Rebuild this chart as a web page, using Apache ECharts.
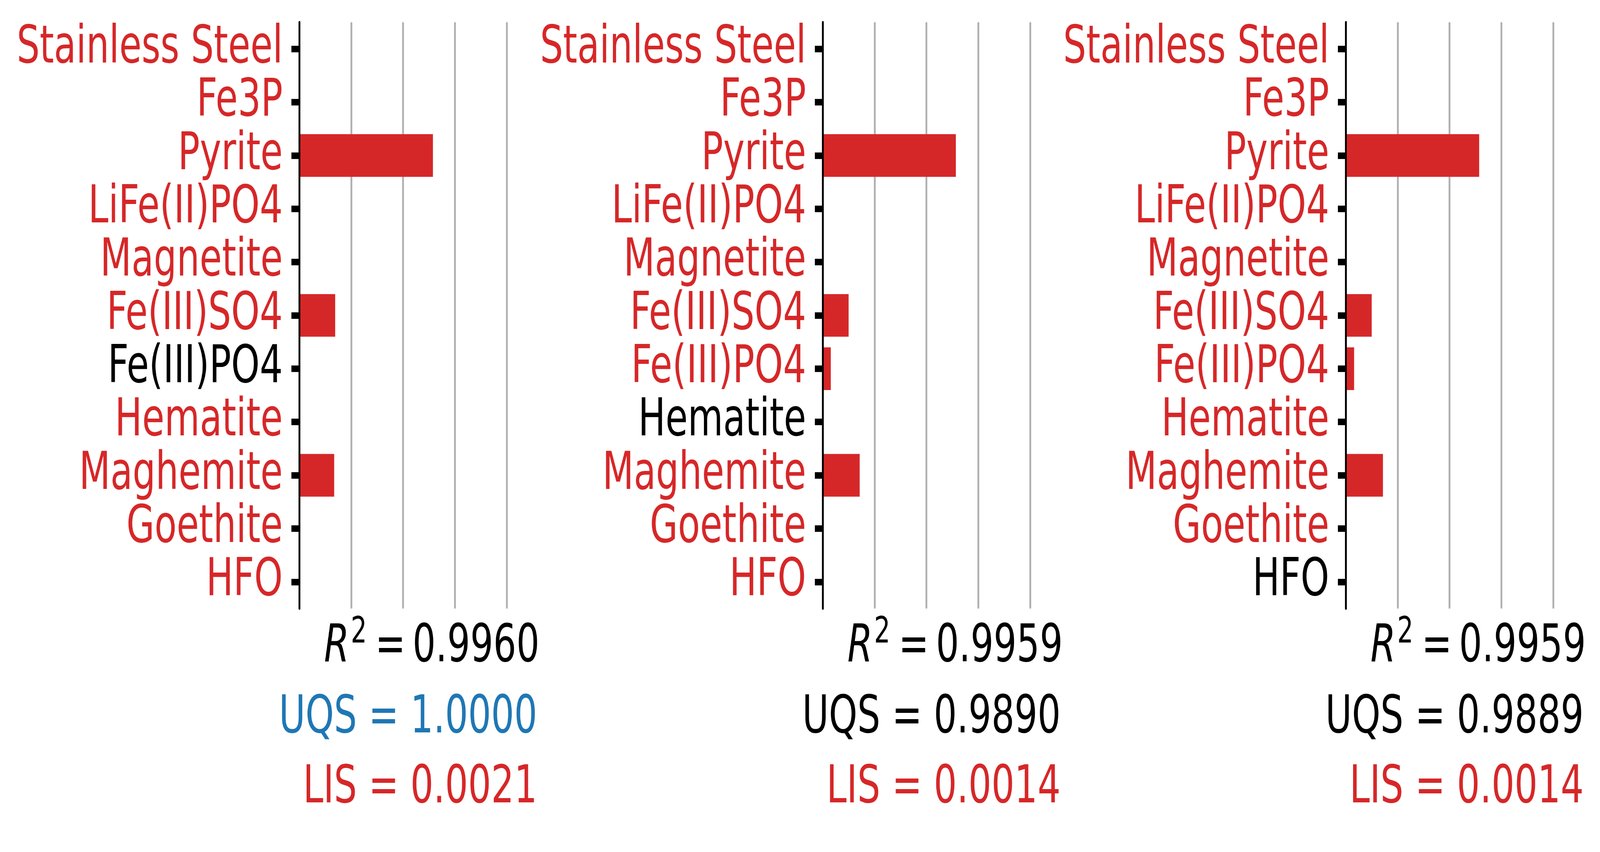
<!DOCTYPE html>
<html>
<head>
<meta charset="utf-8">
<script src="https://cdn.jsdelivr.net/npm/echarts@6/dist/echarts.min.js"></script>
<style>
  html, body { margin: 0; padding: 0; background: #ffffff; overflow: hidden; }
  #chart { width: 5885px; height: 2180px; transform-origin: 0 0; }
</style>
</head>
<body>
<div id="chart"></div>
<script>
// ---- data (category index 0 is at the bottom of each panel) ----
const categories = ['HFO', 'Goethite', 'Maghemite', 'Hematite', 'Fe(III)PO4', 'Fe(III)SO4',
                    'Magnetite', 'LiFe(II)PO4', 'Pyrite', 'Fe3P', 'Stainless Steel'];
const panel1Values = [0, 0, 0.168, 0, 0, 0.173, 0, 0, 0.644, 0, 0];
const panel2Values = [0, 0, 0.178, 0, 0.039, 0.125, 0, 0, 0.642, 0, 0];
const panel3Values = [0, 0, 0.179, 0, 0.040, 0.125, 0, 0, 0.643, 0, 0];
const blackLabels = ['Fe(III)PO4', 'Hematite', 'HFO'];
const r2Values = ['0.9960', '0.9959', '0.9959'];
const uqsValues = ['1.0000', '0.9890', '0.9889'];
const lisValues = ['0.0021', '0.0014', '0.0014'];
const xTicks = [0, 0.25, 0.5, 0.75, 1.0];

// ---- styling / layout (designed for a 5885 x 2180 canvas) ----
const W = 5885, H = 2180;
const RED = '#d62728', BLUE = '#1f77b4', BLACK = '#000000';
const FONT = 'DejaVu Sans';
const FS = 133.33, FS_SUP = 93.3;
const panelLeft = [1101, 3026, 4950];
const panelWidth = 763;
const panelTop = 57, panelHeight = 1500;
const uqsColors = [BLUE, BLACK, BLACK];
const allValues = [panel1Values, panel2Values, panel3Values];

// fit the fixed-size drawing to the actual window
const el = document.getElementById('chart');
const sx = (window.innerWidth || W) / W, sy = (window.innerHeight || H) / H;
if (Math.abs(sx - 1) > 1e-3 || Math.abs(sy - 1) > 1e-3) {
  el.style.transform = 'scale(' + sx + ',' + sy + ')';
}

const chart = echarts.init(el, null, { renderer: 'canvas', width: W, height: H });

const grids = [], xAxes = [], yAxes = [], series = [], graphics = [];
for (let i = 0; i < 3; i++) {
  grids.push({ left: panelLeft[i], top: panelTop, width: panelWidth, height: panelHeight, containLabel: false });
  xAxes.push({
    type: 'value', gridIndex: i, min: xTicks[0], max: xTicks[xTicks.length - 1],
    interval: xTicks[1] - xTicks[0],
    axisLine: { show: false }, axisTick: { show: false }, axisLabel: { show: false },
    splitLine: { show: true, lineStyle: { color: '#b0b0b0', width: 6.67 } }
  });
  const blk = blackLabels[i];
  yAxes.push({
    type: 'category', gridIndex: i, data: categories, boundaryGap: true, z: 5,
    axisLine: { show: true, lineStyle: { color: BLACK, width: 6.67 } },
    axisTick: { show: true, alignWithLabel: true, length: 29, lineStyle: { color: BLACK, width: 16.7 } },
    axisLabel: {
      show: true, fontFamily: FONT, fontSize: FS, margin: 61, interval: 0,
      padding: [8, 0, 0, 0],
      color: function (val) { return val === blk ? BLACK : RED; }
    },
    splitLine: { show: false }
  });
  series.push({
    type: 'bar', xAxisIndex: i, yAxisIndex: i, data: allValues[i],
    barWidth: '80%', itemStyle: { color: RED }, z: 2, silent: true
  });

  const dx = panelLeft[i] - panelLeft[0];
  // R^2 = value (mathtext style)
  graphics.push({ type: 'text', x: 1192 + dx, y: 1657,
    style: { text: 'R', fontFamily: FONT, fontStyle: 'italic', fontSize: FS, fill: BLACK,
             textAlign: 'left', textVerticalAlign: 'middle' } });
  graphics.push({ type: 'text', x: 1290 + dx, y: 1620,
    style: { text: '2', fontFamily: FONT, fontSize: FS_SUP, fill: BLACK,
             textAlign: 'left', textVerticalAlign: 'middle' } });
  graphics.push({ type: 'text', x: 1380 + dx, y: 1657,
    style: { text: '=', fontFamily: FONT, fontSize: FS, fill: BLACK,
             textAlign: 'left', textVerticalAlign: 'middle' } });
  graphics.push({ type: 'text', x: 1984 + dx, y: 1657,
    style: { text: r2Values[i], fontFamily: FONT, fontSize: FS, fill: BLACK,
             textAlign: 'right', textVerticalAlign: 'middle' } });
  graphics.push({ type: 'text', x: 1976 + dx, y: 1839,
    style: { text: 'UQS = ' + uqsValues[i], fontFamily: FONT, fontSize: FS, fill: uqsColors[i],
             textAlign: 'right', textVerticalAlign: 'middle' } });
  graphics.push({ type: 'text', x: 1976 + dx, y: 2018,
    style: { text: 'LIS = ' + lisValues[i], fontFamily: FONT, fontSize: FS, fill: RED,
             textAlign: 'right', textVerticalAlign: 'middle' } });
}

chart.setOption({
  animation: false,
  backgroundColor: '#ffffff',
  grid: grids, xAxis: xAxes, yAxis: yAxes, series: series,
  graphic: graphics
});
</script>
</body>
</html>
